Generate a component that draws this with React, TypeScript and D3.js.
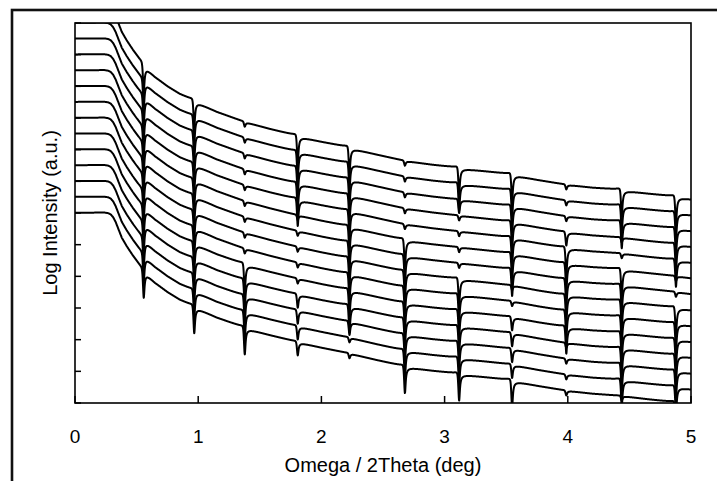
import React from "react";
import * as d3 from "d3";

// ---- data ----
const X_TICKS = [0, 1, 2, 3, 4, 5];
const Y_TICKS = [0, 1, 2, 3, 4, 5, 6, 7, 8, 9, 10, 11, 12];

// flat (total reflection) level of each stacked curve, in decades
const CURVE_LEVELS = [12.5, 12, 11.5, 11, 10.5, 10, 9.5, 9, 8.5, 8, 7.5, 7, 6.5, 6];

// common fall-off of the reflectivity below the flat level (deg -> decades)
const BASE_ANGLE = [0, 0.24, 0.27, 0.29, 0.31, 0.33, 0.35, 0.38, 0.42, 0.47, 0.52, 0.55, 0.65, 0.75, 0.85, 0.96, 1.15, 1.37, 1.58, 1.8, 2.0, 2.22, 2.45, 2.67, 2.9, 3.11, 3.33, 3.54, 3.76, 3.98, 4.2, 4.43, 4.65, 4.87, 5.0];
const BASE_DROP = [0, 0, -0.02, -0.06, -0.15, -0.3, -0.5, -0.8, -1.07, -1.37, -1.65, -1.82, -2.2, -2.5, -2.75, -2.95, -3.3, -3.62, -3.85, -4.07, -4.25, -4.43, -4.65, -4.85, -4.98, -5.08, -5.18, -5.28, -5.45, -5.6, -5.7, -5.77, -5.88, -5.98, -6.05];

// Bragg peak positions (deg)
const PEAK_POS = [0.55, 0.96, 1.37, 1.8, 2.22, 2.67, 3.11, 3.54, 3.98, 4.43, 4.87];

// peak strength per curve (3 strong, 2 medium, 1 weak)
const PEAK_STRENGTH = [
  [3, 3, 1, 3, 3, 1, 3, 3, 1, 3, 3],
  [3, 3, 1, 3, 3, 1, 3, 3, 1, 3, 3],
  [3, 3, 1, 3, 3, 1, 2, 3, 1, 3, 3],
  [3, 3, 1, 3, 3, 1, 1, 3, 2, 1, 3],
  [3, 3, 1, 3, 3, 1, 1, 3, 3, 1, 3],
  [3, 3, 1, 1, 3, 3, 1, 3, 3, 3, 1],
  [3, 3, 1, 1, 3, 3, 1, 3, 3, 3, 1],
  [3, 3, 1, 1, 3, 3, 3, 1, 3, 3, 3],
  [3, 3, 1, 1, 3, 3, 3, 1, 3, 3, 3],
  [3, 3, 3, 1, 3, 3, 3, 2, 3, 3, 3],
  [3, 3, 3, 2, 3, 3, 3, 2, 1, 3, 3],
  [3, 3, 3, 2, 2, 3, 3, 2, 1, 3, 3],
  [3, 3, 3, 2, 1, 3, 3, 2, 1, 3, 3],
  [3, 3, 3, 2, 1, 3, 3, 3, 1, 1, 3],
];
const STRENGTH_AMP = [0, 0.18, 0.5, 1.0];

const X_LABEL = "Omega / 2Theta (deg)";
const Y_LABEL = "Log Intensity (a.u.)";

// ---- layout ----
const W = 717;
const H = 481;
const PL = 75, PR = 691, PT = 23, PB = 403;
const FONT = "'Liberation Sans', Arial, Helvetica, sans-serif";

const x = d3.scaleLinear().domain([0, 5]).range([PL, PR]);
const y = d3.scaleLinear().domain([0, 12]).range([PB, PT]);
const base = d3.scaleLinear().domain(BASE_ANGLE).range(BASE_DROP).clamp(true);

// peak line shape: small rise before the peak, then a sharp dip
function peakShape(dx: number, a: number) {
  const w1 = 0.008, k1 = 0.12;
  const w2 = 0.007, k2 = 0.72, d = 0.008;
  const t1 = dx / w1;
  const t2 = (dx - d) / w2;
  return a * (-k1 * (2 * t1) / (1 + t1 * t1) - k2 / (1 + t2 * t2));
}

const GRID = d3.range(0, 5.0001, 0.0015);

function curvePoints(ci: number): [number, number][] {
  const level = CURVE_LEVELS[ci];
  const strengths = PEAK_STRENGTH[ci];
  return GRID.map((a) => {
    let v = level + base(a);
    for (let k = 0; k < PEAK_POS.length; k++) {
      v += peakShape(a - PEAK_POS[k], STRENGTH_AMP[strengths[k]]);
    }
    return [a, v];
  });
}

const line = d3
  .line<[number, number]>()
  .x((d) => x(d[0]))
  .y((d) => y(d[1]));

export default function App() {
  const curves = CURVE_LEVELS.map((_, i) => line(curvePoints(i)) || "");
  return (
    <svg
      width={W}
      height={H}
      style={{ position: "absolute", left: 0, top: 0, background: "#fff" }}
      fontFamily={FONT}
    >
      <rect x={0} y={0} width={W} height={H} fill="#fff" />
      {/* outer frame */}
      <rect x={12} y={10} width={W + 20} height={H + 20} fill="none" stroke="#111" strokeWidth={2.6} />
      <defs>
        <clipPath id="plotclip">
          <rect x={PL} y={PT} width={PR - PL} height={PB - PT} />
        </clipPath>
      </defs>
      <g clipPath="url(#plotclip)">
        {curves.map((d, i) => (
          <path key={i} d={d} fill="none" stroke="#000" strokeWidth={2} strokeLinejoin="round" />
        ))}
      </g>
      {/* plot box */}
      <rect x={PL} y={PT} width={PR - PL} height={PB - PT} fill="none" stroke="#000" strokeWidth={1.6} />
      {/* x ticks */}
      {X_TICKS.map((t) => (
        <g key={"x" + t}>
          <line x1={x(t)} x2={x(t)} y1={PB} y2={PB - 7} stroke="#000" strokeWidth={1.5} />
          <text x={x(t)} y={443} textAnchor="middle" fontSize={19} fill="#000">
            {t}
          </text>
        </g>
      ))}
      {/* y ticks */}
      {Y_TICKS.map((t) => (
        <line key={"y" + t} x1={PL} x2={PL + 6} y1={y(t)} y2={y(t)} stroke="#000" strokeWidth={1.5} />
      ))}
      <text x={(PL + PR) / 2} y={472} textAnchor="middle" fontSize={20} fill="#000">
        {X_LABEL}
      </text>
      <text
        transform={`translate(57, ${(PT + PB) / 2}) rotate(-90)`}
        textAnchor="middle"
        fontSize={20}
        fill="#000"
      >
        {Y_LABEL}
      </text>
    </svg>
  );
}
